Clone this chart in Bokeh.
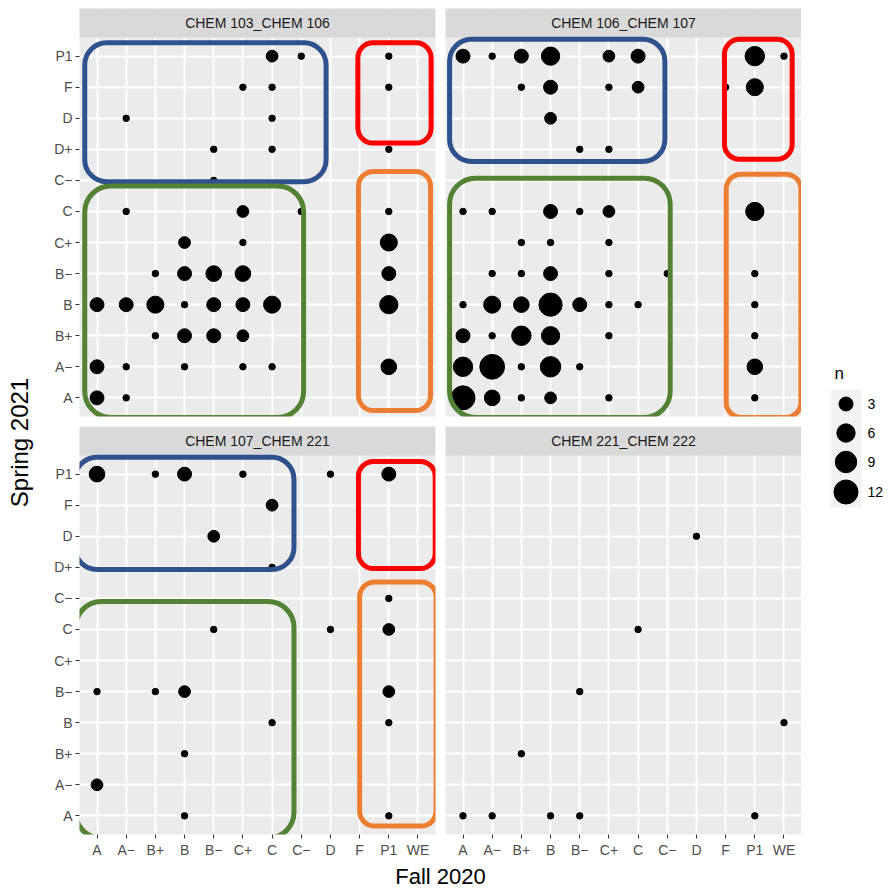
import math
from bokeh.plotting import figure
from bokeh.models import Range1d, FixedTicker, BoxAnnotation, ColumnDataSource, CustomJSTickFormatter
from bokeh.layouts import row, column
from bokeh.embed import file_html
from bokeh.resources import INLINE
from bokeh.core.properties import value

# ---------------- data ----------------
fall_grades = ["A", "A−", "B+", "B", "B−", "C+", "C", "C−", "D", "F", "P1", "WE"]
spring_grades = ["A", "A−", "B+", "B", "B−", "C+", "C", "C−", "D+", "D", "F", "P1"]

panel_titles = ["CHEM 103_CHEM 106", "CHEM 106_CHEM 107",
                "CHEM 107_CHEM 221", "CHEM 221_CHEM 222"]

# CHEM 103_CHEM 106
p1_fall = ["C", "C−", "P1", "C+", "C", "P1", "A−", "C", "B−", "C", "P1", "B−",
           "A−", "C+", "C−", "P1", "B", "C+", "P1",
           "B+", "B", "B−", "C+", "P1",
           "A", "A−", "B+", "B", "B−", "C+", "C", "P1",
           "B+", "B", "B−", "C+",
           "A", "A−", "B", "C+", "C", "P1", "A", "A−"]
p1_spring = ["P1", "P1", "P1", "F", "F", "F", "D", "D", "D+", "D+", "D+", "C−",
             "C", "C", "C", "C", "C+", "C+", "C+",
             "B−", "B−", "B−", "B−", "B−",
             "B", "B", "B", "B", "B", "B", "B", "B",
             "B+", "B+", "B+", "B+",
             "A−", "A−", "A−", "A−", "A−", "A−", "A", "A"]
p1_n = [2, 1, 1, 1, 1, 1, 1, 1, 1, 1, 1, 1,
        1, 2, 1, 1, 2, 1, 5,
        1, 3, 4, 4, 3,
        3, 3, 5, 1, 3, 3, 5, 6,
        1, 3, 3, 2,
        3, 1, 1, 1, 1, 4, 3, 1]

# CHEM 106_CHEM 107
p2_fall = ["A", "A−", "B+", "B", "C+", "C", "P1", "WE",
           "B+", "B", "C+", "C", "F", "P1",
           "B", "B−", "C+",
           "A", "A−", "B", "B−", "C+", "P1",
           "B+", "B", "C+",
           "A−", "B+", "B", "C+", "C−", "P1",
           "A", "A−", "B+", "B", "B−", "C+", "C", "P1",
           "A", "A−", "B+", "B", "C+", "P1",
           "A", "A−", "B+", "B", "B−", "P1",
           "A", "A−", "B+", "B", "C+", "P1"]
p2_spring = ["P1"] * 8 + ["F"] * 6 + ["D", "D+", "D+"] + ["C"] * 6 + ["C+"] * 3 + \
            ["B−"] * 6 + ["B"] * 8 + ["B+"] * 6 + ["A−"] * 6 + ["A"] * 6
p2_n = [3, 1, 3, 6, 2, 3, 7, 1,
        1, 3, 1, 2, 1, 5,
        2, 1, 1,
        1, 1, 3, 1, 2, 6,
        1, 1, 1,
        1, 1, 3, 1, 1, 1,
        1, 5, 4, 11, 3, 1, 1, 1,
        3, 1, 7, 6, 1, 1,
        7, 13, 1, 8, 1, 4,
        12, 4, 1, 2, 1, 1]

# CHEM 107_CHEM 221
p3_fall = ["A", "B+", "B", "C+", "D", "P1",
           "C", "B−", "C", "P1",
           "B−", "D", "P1",
           "A", "B+", "B", "P1",
           "C", "P1", "B", "A", "B", "P1"]
p3_spring = ["P1"] * 6 + ["F", "D", "D+", "C−"] + ["C"] * 3 + ["B−"] * 4 + \
            ["B", "B", "B+", "A−", "A", "A"]
p3_n = [4, 1, 3, 1, 1, 3,
        2, 2, 1, 1,
        1, 1, 2,
        1, 1, 2, 2,
        1, 1, 1, 2, 1, 1]

# CHEM 221_CHEM 222
p4_fall = ["D", "C", "B−", "WE", "B+", "A", "A−", "B", "B−", "P1"]
p4_spring = ["D", "C", "B−", "B", "B+", "A", "A", "A", "A", "A"]
p4_n = [1, 1, 1, 1, 1, 1, 1, 1, 1, 1]

legend_breaks = [3, 6, 9, 12]

# hand-drawn highlight boxes (grade-axis units: left, right, bottom, top)
box_colors = {"blue": "#2F528F", "red": "#FF0000", "green": "#548235", "orange": "#ED7D31"}
box_radius = {"blue": 22, "red": 15, "green": 26, "orange": 15}
p1_boxes = [("blue", -0.42, 7.85, 6.96, 11.43), ("red", 8.94, 11.45, 8.2, 11.43),
            ("green", -0.42, 7.08, -0.63, 6.82), ("orange", 8.96, 11.43, -0.41, 7.29)]
p2_boxes = [("blue", -0.46, 6.92, 7.61, 11.54), ("red", 8.96, 11.28, 7.68, 11.54),
            ("green", -0.46, 7.1, -0.63, 7.07), ("orange", 9.02, 11.58, -0.63, 7.2)]
p3_boxes = [("blue", -0.76, 6.75, 7.93, 11.54), ("red", 8.96, 11.59, 7.96, 11.41),
            ("green", -0.74, 6.75, -0.72, 6.9), ("orange", 9.0, 11.62, -0.33, 7.53)]
p4_boxes = []

# ---------------- styling / layout ----------------
FONT = "Liberation Sans"
PANEL_BG = "#EBEBEB"
STRIP_BG = "#D9D9D9"
FRAME_W = 356
PANEL_H = 379
STRIP_H = 29
PAD = 0.6
units_per_px = (len(spring_grades) - 1 + 2 * PAD) / PANEL_H
strip_units = STRIP_H * units_per_px


def dot_size(n):
    return 6.5 + 17.5 * math.sqrt((n - 1) / 11)


def make_panel(title, fx, sy, n, boxes, show_x, show_y, mbl, mbr, mbt, mbb):
    x_lo, x_hi = -PAD, len(fall_grades) - 1 + PAD
    y_lo, y_hi = -PAD, len(spring_grades) - 1 + PAD
    p = figure(frame_width=FRAME_W, frame_height=PANEL_H + STRIP_H,
               x_range=Range1d(x_lo, x_hi), y_range=Range1d(y_lo, y_hi + strip_units),
               x_axis_location="below" if show_x else None,
               y_axis_location="left" if show_y else None,
               output_backend="svg", toolbar_location=None,
               min_border_left=mbl, min_border_right=mbr,
               min_border_top=mbt, min_border_bottom=mbb)
    p.background_fill_color = PANEL_BG
    p.border_fill_color = "white"
    p.outline_line_color = None

    p.xgrid.ticker = FixedTicker(ticks=list(range(len(fall_grades))))
    p.ygrid.ticker = FixedTicker(ticks=list(range(len(spring_grades))))
    p.grid.grid_line_color = "white"
    p.grid.grid_line_width = 2
    p.grid.minor_grid_line_color = None

    def style_axis(ax, labels):
        ax.ticker = FixedTicker(ticks=list(range(len(labels))))
        ax.formatter = CustomJSTickFormatter(args=dict(labels=labels),
                                             code="return labels[Math.round(tick)] || '';")
        ax.axis_line_color = None
        ax.major_tick_line_color = "#333333"
        ax.major_tick_line_width = 1
        ax.major_tick_out = 4
        ax.major_tick_in = 0
        ax.minor_tick_line_color = None
        ax.major_label_text_font = FONT
        ax.major_label_text_font_size = "14px"
        ax.major_label_text_color = "#4D4D4D"
        ax.major_label_standoff = 3

    if show_x:
        style_axis(p.xaxis[0], fall_grades)
    if show_y:
        style_axis(p.yaxis[0], spring_grades)

    # strip
    p.quad(left=x_lo, right=x_hi, bottom=y_hi, top=y_hi + strip_units,
           fill_color=STRIP_BG, line_color=None)
    p.text(x=[(x_lo + x_hi) / 2], y=[y_hi + strip_units / 2], text=[title],
           text_align="center", text_baseline="middle", text_font_size="14px",
           text_color="#1A1A1A", text_font=value(FONT))

    if n:
        src = ColumnDataSource(dict(
            x=[fall_grades.index(g) for g in fx],
            y=[spring_grades.index(g) for g in sy],
            size=[dot_size(v) for v in n]))
        p.scatter(x="x", y="y", size="size", source=src,
                  fill_color="black", line_color="black")

    for name, l, r, b, t in boxes:
        p.add_layout(BoxAnnotation(left=l, right=r, bottom=b, top=t,
                                   fill_alpha=0, fill_color=None,
                                   line_color=box_colors[name], line_alpha=1.0,
                                   line_width=5,
                                   border_radius=box_radius[name], level="overlay"))
    return p


f1 = make_panel(panel_titles[0], p1_fall, p1_spring, p1_n, p1_boxes, False, True, 41, 5, 8, 5)
f2 = make_panel(panel_titles[1], p2_fall, p2_spring, p2_n, p2_boxes, False, False, 5, 0, 8, 5)
f3 = make_panel(panel_titles[2], p3_fall, p3_spring, p3_n, p3_boxes, True, True, 41, 5, 5, 26)
f4 = make_panel(panel_titles[3], p4_fall, p4_spring, p4_n, p4_boxes, True, False, 5, 0, 5, 26)


def blank(width, height, xr, yr):
    p = figure(width=width, height=height, x_range=Range1d(*xr), y_range=Range1d(*yr),
               x_axis_location=None, y_axis_location=None,
               output_backend="svg", toolbar_location=None, min_border=0)
    p.grid.visible = False
    p.outline_line_color = None
    p.background_fill_color = "white"
    p.border_fill_color = "white"
    return p


# y-axis title (page coordinates)
yt = blank(38, 889, (0, 38), (889, 0))
yt.text(x=[19], y=[442], text=["Spring 2021"], angle=math.pi / 2,
        text_align="center", text_baseline="middle", text_font_size="24px",
        text_color="black", text_font=value(FONT))

# x-axis title
xt = blank(763, 29, (38, 801), (889, 860))
xt.text(x=[440], y=[876], text=["Fall 2020"], text_align="center",
        text_baseline="middle", text_font_size="22px", text_color="black",
        text_font=value(FONT))

# legend
lg = blank(89, 889, (801, 890), (889, 0))
lg.text(x=[834], y=[373], text=["n"], text_align="left", text_baseline="middle",
        text_font_size="17px", text_color="black", text_font=value(FONT))
key_h = [max(29, dot_size(b) + 7) for b in legend_breaks]
tops = []
cur = 389
for h in key_h:
    tops.append(cur)
    cur += h
lg.quad(left=830, right=861, top=389, bottom=cur, fill_color="#F2F2F2", line_color=None)
centers = [t + h / 2 for t, h in zip(tops, key_h)]
lg.scatter(x=[845.5] * len(legend_breaks), y=centers,
           size=[dot_size(b) for b in legend_breaks], fill_color="black", line_color="black")
lg.text(x=[867] * len(legend_breaks), y=centers, text=[str(b) for b in legend_breaks],
        text_align="left", text_baseline="middle", text_font_size="14px",
        text_color="black", text_font=value(FONT))

layout = row(yt, column(row(f1, f2), row(f3, f4), xt), lg)

open("out.html", "w").write(file_html(layout, INLINE, title="plot"))
